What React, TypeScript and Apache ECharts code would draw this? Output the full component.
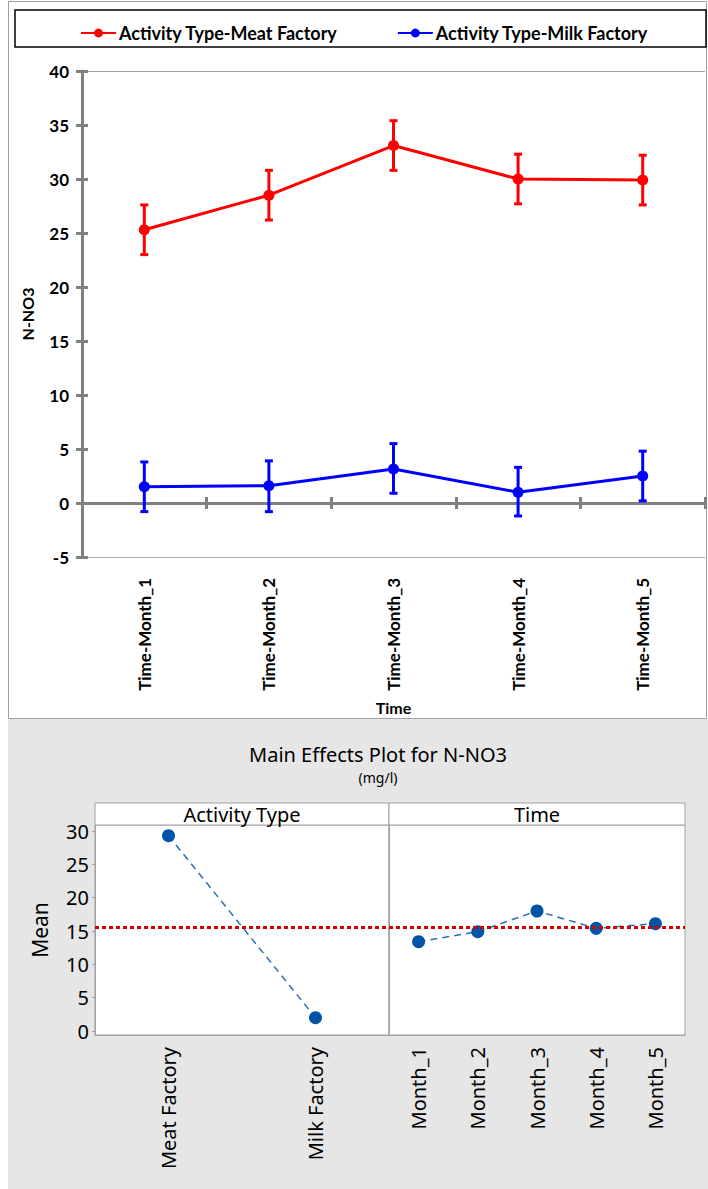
import React, { useEffect, useRef } from "react";
import * as echarts from "echarts";

// ---- Top chart data ----
const timeCategories = ["Time-Month_1", "Time-Month_2", "Time-Month_3", "Time-Month_4", "Time-Month_5"];
const meatMean = [25.3, 28.5, 33.1, 30.0, 29.9];
const meatLow = [23.0, 26.2, 30.8, 27.7, 27.6];
const meatHigh = [27.6, 30.8, 35.4, 32.3, 32.2];
const milkMean = [1.5, 1.6, 3.15, 1.0, 2.5];
const milkLow = [-0.8, -0.8, 0.9, -1.2, 0.2];
const milkHigh = [3.8, 3.9, 5.5, 3.3, 4.8];
const meatName = "Activity Type-Meat Factory";
const milkName = "Activity Type-Milk Factory";

// ---- Main effects data ----
const activityLevels = ["Meat Factory", "Milk Factory"];
const activityMeans = [29.3, 2.0];
const timeLevels = ["Month_1", "Month_2", "Month_3", "Month_4", "Month_5"];
const timeMeans = [13.4, 14.9, 18.0, 15.4, 16.1];
const grandMean = 15.5;
const meanTicks = [0, 5, 10, 15, 20, 25, 30];

const TOPFONT = "Lato, 'Open Sans', sans-serif";
const BOTFONT = "'Noto Sans', 'Open Sans', sans-serif";
const AXIS_GRAY = "#808080";
const PANEL_GRAY = "#a0a0a0";

function errorSeries(low: number[], high: number[], color: string) {
  return {
    type: "custom",
    xAxisIndex: 0,
    yAxisIndex: 0,
    z: 3,
    silent: true,
    encode: { x: 0, y: [1, 2] },
    data: low.map((l, i) => [i, l, high[i]]),
    renderItem: (params: any, api: any) => {
      const x = api.value(0);
      const lo = api.coord([x, api.value(1)]);
      const hi = api.coord([x, api.value(2)]);
      const cap = 4;
      const style = { stroke: color, lineWidth: 3 };
      return {
        type: "group",
        children: [
          { type: "line", shape: { x1: lo[0], y1: lo[1], x2: hi[0], y2: hi[1] }, style },
          { type: "line", shape: { x1: lo[0] - cap, y1: lo[1], x2: lo[0] + cap, y2: lo[1] }, style },
          { type: "line", shape: { x1: hi[0] - cap, y1: hi[1], x2: hi[0] + cap, y2: hi[1] }, style },
        ],
      };
    },
  };
}

export default function App() {
  const ref = useRef<HTMLDivElement>(null);
  useEffect(() => {
    document.body.style.margin = "0";
    const chart = echarts.init(ref.current!, undefined, { renderer: "svg" });
    const meanMark = {
      silent: true,
      symbol: "none",
      label: { show: false },
      lineStyle: { color: "#d40000", width: 3, type: [4, 3] },
      data: [{ yAxis: grandMean }],
    };
    const option: any = {
      animation: false,
      backgroundColor: "#ffffff",
      graphic: [
        { type: "rect", z: -10, shape: { x: 8.5, y: 1.5, width: 698, height: 717 }, style: { fill: "#fff", stroke: PANEL_GRAY, lineWidth: 1 } },
        { type: "rect", z: -9, shape: { x: 15, y: 10, width: 691, height: 37 }, style: { fill: "none", stroke: "#000", lineWidth: 1.5 } },
        { type: "rect", z: -10, shape: { x: 8, y: 719, width: 700, height: 470 }, style: { fill: "#e6e6e6", stroke: "none" } },
        { type: "text", x: 378, y: 754, style: { text: "Main Effects Plot for N-NO3", font: `20px ${BOTFONT}`, fill: "#000", align: "center", verticalAlign: "middle" } },
        { type: "text", x: 378, y: 777, style: { text: "(mg/l)", font: `14px ${BOTFONT}`, fill: "#000", align: "center", verticalAlign: "middle" } },
        { type: "rect", z: 5, shape: { x: 95, y: 803, width: 294, height: 22 }, style: { fill: "#fff", stroke: PANEL_GRAY, lineWidth: 1 } },
        { type: "rect", z: 5, shape: { x: 389, y: 803, width: 296, height: 22 }, style: { fill: "#fff", stroke: PANEL_GRAY, lineWidth: 1 } },
        { type: "text", z: 6, x: 242, y: 814, style: { text: "Activity Type", font: `20px ${BOTFONT}`, fill: "#000", align: "center", verticalAlign: "middle" } },
        { type: "text", z: 6, x: 537, y: 814, style: { text: "Time", font: `20px ${BOTFONT}`, fill: "#000", align: "center", verticalAlign: "middle" } },
      ],
      legend: {
        top: 19,
        left: 75,
        itemGap: 59,
        itemWidth: 35,
        itemHeight: 11,
        data: [meatName, milkName],
        textStyle: { fontFamily: TOPFONT, fontWeight: "bold", fontSize: 18, color: "#000", padding: [0, 0, 0, -2] },
      },
      grid: [
        { left: 82, top: 71, width: 623, height: 486, containLabel: false },
        { left: 95, top: 825, width: 294, height: 210, show: true, backgroundColor: "#fff", borderColor: PANEL_GRAY, borderWidth: 1 },
        { left: 389, top: 825, width: 296, height: 210, show: true, backgroundColor: "#fff", borderColor: PANEL_GRAY, borderWidth: 1 },
      ],
      xAxis: [
        {
          gridIndex: 0, type: "category", data: timeCategories, position: "bottom",
          axisLine: { onZero: true, onZeroAxisIndex: 0, lineStyle: { color: AXIS_GRAY, width: 3 } },
          axisTick: { show: true, length: 6, lineStyle: { color: AXIS_GRAY, width: 3 } },
          axisLabel: { show: false },
          splitLine: { show: false },
        },
        {
          gridIndex: 0, type: "category", data: timeCategories, position: "bottom",
          axisLine: { show: false, onZero: true, onZeroAxisIndex: 0 },
          axisTick: { show: true, inside: true, length: 6, lineStyle: { color: AXIS_GRAY, width: 3 } },
          axisLabel: { show: false },
          splitLine: { show: false },
        },
        {
          gridIndex: 0, type: "category", data: timeCategories, position: "bottom",
          name: "Time", nameLocation: "middle", nameGap: 142,
          nameTextStyle: { fontFamily: TOPFONT, fontWeight: "bold", fontSize: 16, color: "#000" },
          axisLine: { show: true, onZero: false, lineStyle: { color: "#b0b0b0", width: 1 } },
          axisTick: { show: false },
          axisLabel: { rotate: 90, margin: 21, fontFamily: TOPFONT, fontWeight: "bold", fontSize: 17, color: "#000" },
          splitLine: { show: false },
        },
        {
          gridIndex: 1, type: "category", data: activityLevels, position: "bottom",
          axisLine: { onZero: false, lineStyle: { color: PANEL_GRAY, width: 1 } },
          axisTick: { alignWithLabel: true, length: 4, lineStyle: { color: PANEL_GRAY } },
          axisLabel: { rotate: 90, margin: 12, fontFamily: BOTFONT, fontSize: 20, color: "#000" },
        },
        {
          gridIndex: 2, type: "category", data: timeLevels, position: "bottom",
          axisLine: { onZero: false, lineStyle: { color: PANEL_GRAY, width: 1 } },
          axisTick: { alignWithLabel: true, length: 4, lineStyle: { color: PANEL_GRAY } },
          axisLabel: { rotate: 90, margin: 12, fontFamily: BOTFONT, fontSize: 20, color: "#000" },
        },
      ],
      yAxis: [
        {
          gridIndex: 0, type: "value", min: -5, max: 40, interval: 5, position: "left",
          name: "N-NO3", nameLocation: "middle", nameGap: 47,
          nameTextStyle: { fontFamily: TOPFONT, fontWeight: "bold", fontSize: 16, color: "#000" },
          axisLine: { show: true, lineStyle: { color: AXIS_GRAY, width: 3 } },
          axisTick: { show: true, length: 6, lineStyle: { color: AXIS_GRAY, width: 3 } },
          axisLabel: { margin: 13, fontFamily: TOPFONT, fontWeight: "bold", fontSize: 17, color: "#000" },
          splitLine: {
            show: true,
            lineStyle: { width: 1, color: ["transparent", "transparent", "transparent", "transparent", "transparent", "transparent", "transparent", "transparent", "transparent", "#a0a0a0"] },
          },
        },
        {
          gridIndex: 0, type: "value", min: -5, max: 40, interval: 5, position: "left",
          axisLine: { show: false },
          axisTick: { show: true, inside: true, length: 6, lineStyle: { color: AXIS_GRAY, width: 3 } },
          axisLabel: { show: false },
          splitLine: { show: false },
        },
        {
          gridIndex: 1, type: "value", min: -0.6, max: 30.9, position: "left",
          name: "Mean", nameLocation: "middle", nameGap: 45,
          nameTextStyle: { fontFamily: BOTFONT, fontSize: 21, color: "#000" },
          axisLine: { show: true, lineStyle: { color: PANEL_GRAY, width: 1 } },
          axisTick: { show: true, length: 3, customValues: meanTicks, lineStyle: { color: PANEL_GRAY } },
          axisLabel: { margin: 6, customValues: meanTicks, fontFamily: BOTFONT, fontSize: 20, color: "#000" },
          splitLine: { show: false },
        },
        {
          gridIndex: 2, type: "value", min: -0.6, max: 30.9, position: "left",
          axisLine: { show: true, lineStyle: { color: PANEL_GRAY, width: 1 } },
          axisTick: { show: false },
          axisLabel: { show: false },
          splitLine: { show: false },
        },
      ],
      series: [
        errorSeries(meatLow, meatHigh, "#ff0000"),
        errorSeries(milkLow, milkHigh, "#0000ff"),
        {
          name: meatName, type: "line", xAxisIndex: 0, yAxisIndex: 0, z: 4, data: meatMean,
          symbol: "circle", symbolSize: 11,
          itemStyle: { color: "#ff0000" }, lineStyle: { color: "#ff0000", width: 3 },
        },
        {
          name: milkName, type: "line", xAxisIndex: 0, yAxisIndex: 0, z: 4, data: milkMean,
          symbol: "circle", symbolSize: 11,
          itemStyle: { color: "#0000ff" }, lineStyle: { color: "#0000ff", width: 3 },
        },
        {
          name: "activity", type: "line", xAxisIndex: 3, yAxisIndex: 2, data: activityMeans,
          symbol: "circle", symbolSize: 13,
          itemStyle: { color: "#0054a6" }, lineStyle: { color: "#2e6db8", width: 1.5, type: [7, 5] },
          markLine: meanMark,
        },
        {
          name: "time", type: "line", xAxisIndex: 4, yAxisIndex: 3, data: timeMeans,
          symbol: "circle", symbolSize: 13,
          itemStyle: { color: "#0054a6" }, lineStyle: { color: "#2e6db8", width: 1.5, type: [7, 5] },
          markLine: meanMark,
        },
      ],
    };
    chart.setOption(option);
    return () => chart.dispose();
  }, []);
  return <div ref={ref} style={{ width: 708, height: 1189 }} />;
}
